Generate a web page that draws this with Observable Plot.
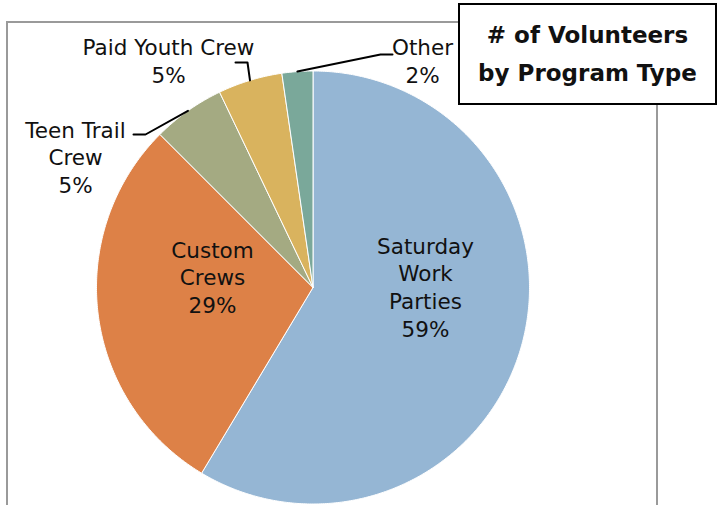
<!DOCTYPE html>
<html>
<head>
<meta charset="utf-8">
<script src="https://cdn.jsdelivr.net/npm/d3@7"></script>
<script src="https://cdn.jsdelivr.net/npm/@observablehq/plot@0.6"></script>
<style>
  html, body { margin: 0; padding: 0; background: #fff; }
  #wrap { position: relative; width: 719px; height: 505px; overflow: hidden; font-family: "DejaVu Sans", sans-serif; }
  #wrap svg { position: absolute; left: 0; top: 0; }
  .gline { position: absolute; background: #9a9a9a; }
  #title { position: absolute; left: 458px; top: 3px; width: 255px; height: 98px; border: 2px solid #000; background: #fff;
           display: flex; align-items: center; justify-content: center; text-align: center;
           font-weight: bold; font-size: 23px; line-height: 38px; color: #111; }
</style>
</head>
<body>
<div id="wrap">
  <div class="gline" style="left:6px; top:21px; width:452px; height:2px;"></div>
  <div class="gline" style="left:6px; top:21px; width:2px; height:484px;"></div>
  <div class="gline" style="left:656px; top:105px; width:2px; height:400px;"></div>
</div>
<script>
// ---- data ----
const categories = ["Saturday Work Parties", "Custom Crews", "Teen Trail Crew", "Paid Youth Crew", "Other"];
const shares = [58.6, 28.9, 5.4, 4.8, 2.3];
const labelLines = [["Saturday", "Work", "Parties"], ["Custom", "Crews"], ["Teen Trail", "Crew"], ["Paid Youth Crew"], ["Other"]];
const colors = ["#95b6d4", "#dd8147", "#a4aa82", "#d9b35e", "#7aa89a"];

// ---- layout ----
const W = 719, H = 505;
const cx = 312.5, cy = 287, R = 216.5;
const labelPos = [[425, 286], [212, 276], [75, 156], [168, 60], [422, 60]];
const leaders = {
  2: [[145, 134], [133, 134]],
  3: [[247, 62], [235, 62]],
  4: [[380, 54], [392, 54]]
};

const total = d3.sum(shares);
const arcs = d3.pie().sort(null).value(d => d)(shares);
const pt = (a, r) => [cx + r * Math.sin(a), cy - r * Math.cos(a)];

const slicePts = [];
arcs.forEach((a, i) => {
  const name = categories[i];
  slicePts.push({name, x: cx, y: cy});
  const n = Math.max(2, Math.ceil((a.endAngle - a.startAngle) / (Math.PI / 360)));
  for (let k = 0; k <= n; k++) {
    const ang = a.startAngle + (a.endAngle - a.startAngle) * k / n;
    const [x, y] = pt(ang, R);
    slicePts.push({name, x, y});
  }
  slicePts.push({name, x: cx, y: cy});
});

const labels = categories.map((c, i) => ({
  name: c,
  text: labelLines[i].join("\n") + "\n" + Math.round(shares[i] / total * 100) + "%",
  x: labelPos[i][0], y: labelPos[i][1]
}));

const leaderPts = [];
Object.entries(leaders).forEach(([i, pts]) => {
  const a = arcs[+i];
  const mid = (a.startAngle + a.endAngle) / 2;
  const [sx, sy] = pt(mid, R);
  [[sx, sy], ...pts].forEach(([x, y]) => leaderPts.push({name: categories[+i], x, y}));
});

const chart = Plot.plot({
  width: W, height: H,
  margin: 0,
  x: {domain: [0, W], range: [0, W], axis: null},
  y: {domain: [0, H], range: [0, H], axis: null},
  color: {domain: categories, range: colors},
  style: {background: "transparent", fontFamily: "DejaVu Sans, sans-serif"},
  marks: [
    Plot.line(slicePts, {x: "x", y: "y", z: "name", fill: "name", stroke: "white", strokeWidth: 1, curve: "linear"}),
    Plot.line(leaderPts, {x: "x", y: "y", z: "name", stroke: "#000", strokeWidth: 2}),
    Plot.text(labels, {x: "x", y: "y", text: "text", fontSize: 21.5, lineHeight: 1.3, fill: "#111", textAnchor: "middle"})
  ]
});
document.getElementById("wrap").prepend(chart);
const t = document.createElement("div");
t.id = "title";
t.innerHTML = "# of Volunteers<br>by Program Type";
document.getElementById("wrap").appendChild(t);
</script>
</body>
</html>
